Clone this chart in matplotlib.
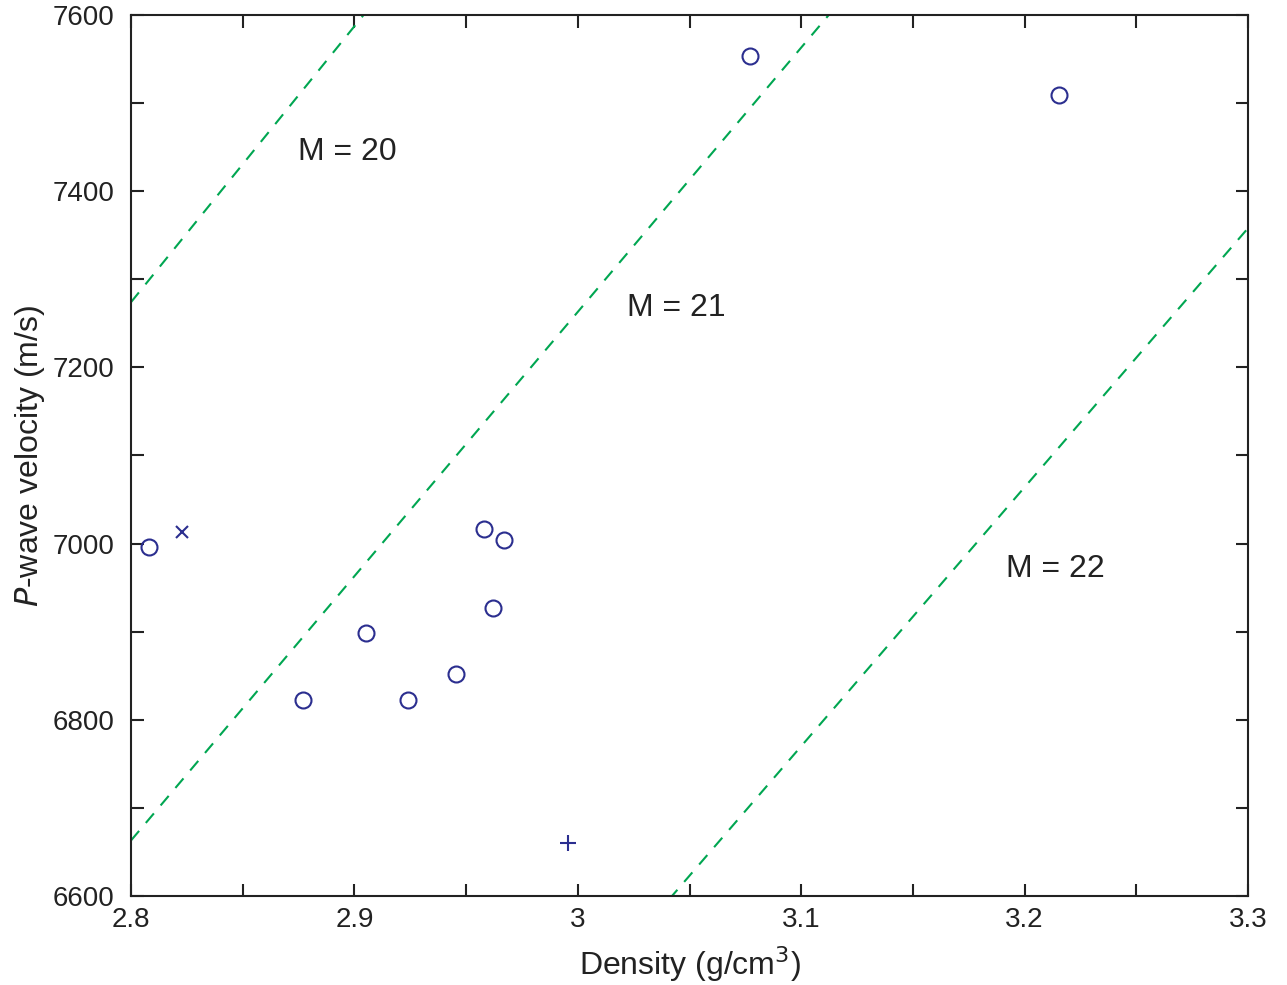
import numpy as np
import matplotlib
matplotlib.use("Agg")
import matplotlib.pyplot as plt

plt.rcParams['font.family'] = ['Liberation Sans', 'DejaVu Sans']

# Samples (density g/cm3, Vp m/s)
circle_rho = [2.808, 2.877, 2.905, 2.924, 2.9455, 2.958, 2.962, 2.967, 3.077, 3.2154]
circle_vp = [6996, 6822, 6898, 6822, 6852, 7016, 6927, 7004, 7553, 7509]
cross_rho = [2.823]
cross_vp = [7013]
plus_rho = [2.9956]
plus_vp = [6660]

# Constant mean atomic mass lines
line_rho = [2.8, 3.3]
m20_vp = [7274, 8840]
m21_vp = [6663, 8163]
m22_vp = [5888, 7358]
m_labels = ["M = 20", "M = 21", "M = 22"]
label_rho = [2.8967, 3.044, 3.2136]
label_vp = [7444, 7267, 6971]

navy = '#2b2e8f'
green = '#00a651'
ink = '#222222'

fig = plt.figure(figsize=(12.87, 9.85), dpi=100)
ax = fig.add_axes([0.1018, 0.0904, 0.8679, 0.8944])

for vp in (m20_vp, m21_vp, m22_vp):
    ax.plot(line_rho, vp, color=green, lw=1.5, dashes=(6, 5))

ax.plot(circle_rho, circle_vp, 'o', mfc='none', mec=navy, mew=1.5, ms=11.5)
ax.plot(cross_rho, cross_vp, 'x', color=navy, mew=1.5, ms=8)
ax.plot(plus_rho, plus_vp, '+', color=navy, mew=1.5, ms=11)

for txt, x, y in zip(m_labels, label_rho, label_vp):
    ax.text(x, y, txt, fontsize=23, ha='center', va='center', color=ink)

ax.set_xlim(2.8, 3.3)
ax.set_ylim(6600, 7600)

xt = np.arange(2.8, 3.3001, 0.05)
ax.set_xticks(xt)
ax.set_xticklabels(['%g' % round(v, 2) if i % 2 == 0 else '' for i, v in enumerate(xt)])
yt = np.arange(6600, 7601, 100)
ax.set_yticks(yt)
ax.set_yticklabels([str(v) if i % 2 == 0 else '' for i, v in enumerate(yt)])

ax.tick_params(direction='in', length=9, width=1.5, top=True, right=True,
               labelsize=20, colors=ink)
ax.tick_params(axis='y', pad=12)
ax.tick_params(axis='x', pad=8)
for s in ax.spines.values():
    s.set_linewidth(1.5)
    s.set_color(ink)

ax.set_xlabel('Density (g/cm$^3$)', fontsize=23, color=ink, labelpad=8)
ax.set_ylabel('$\\it{P}$-wave velocity (m/s)', fontsize=23, color=ink, labelpad=4)

fig.savefig('out.png', dpi=100)
